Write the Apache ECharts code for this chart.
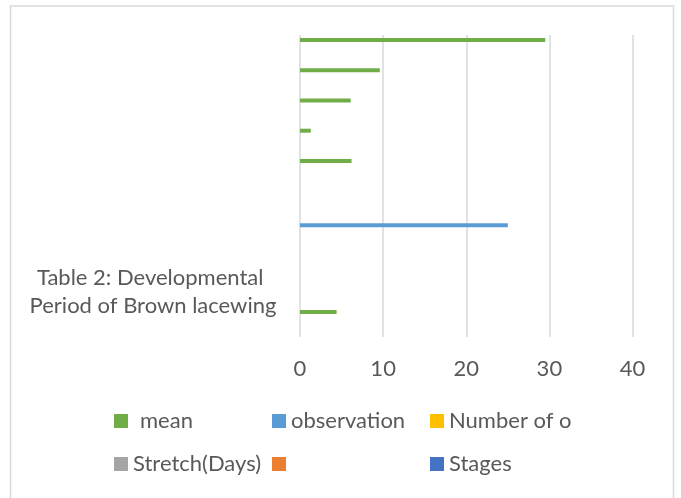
<!DOCTYPE html>
<html>
<head>
<meta charset="utf-8">
<script src="https://cdn.jsdelivr.net/npm/echarts@6/dist/echarts.min.js"></script>
<style>
  html, body { margin: 0; padding: 0; background: #ffffff; }
  #chart { width: 681px; height: 498px; }
</style>
</head>
<body>
<div id="chart"></div>
<script>
// Categories listed bottom to top along the vertical axis
var categories = ['', 'Table 2: Developmental Period of Brown lacewing', '', '', '', '', '', '', '', ''];

// Series values, one per category (null = no bar)
var meanValues        = [4.4, null, null, null, null, 6.2, 1.3, 6.1, 9.6, 29.5];
var observationValues = [null, null, null, 25, null, null, null, null, null, null];
var numberValues      = [null, null, null, null, null, null, null, null, null, null];
var stretchValues     = [null, null, null, null, null, null, null, null, null, null];
var unnamedValues     = [null, null, null, null, null, null, null, null, null, null];
var stagesValues      = [null, null, null, null, null, null, null, null, null, null];

// Value axis ticks
var xTicks = [0, 10, 20, 30, 40];

// Series are listed top to bottom within each category band
var seriesNames = ['mean', 'observation', 'Number of o', 'Stretch(Days)', ' ', 'Stages'];
var seriesColors = ['#70AD47', '#5B9BD5', '#FFC000', '#A5A5A5', '#ED7D31', '#4472C4'];
var seriesValues = [meanValues, observationValues, numberValues, stretchValues, unnamedValues, stagesValues];

var FONT = 'Lato';
var FONT_SIZE = 22;
var TEXT_COLOR = '#595959';

var chart = echarts.init(document.getElementById('chart'), null, { renderer: 'canvas' });

// Legend entries laid out on a 3-column grid
var legendSpots = [
  { name: 'mean',          left: 114, top: 410, pad: 7 },
  { name: 'observation',   left: 272, top: 410, pad: 0 },
  { name: 'Number of o',   left: 430, top: 410, pad: 0 },
  { name: 'Stretch(Days)', left: 114, top: 453, pad: 0 },
  { name: ' ',             left: 272, top: 453, pad: 0 },
  { name: 'Stages',        left: 430, top: 453, pad: 0 }
];

var legends = legendSpots.map(function (s) {
  return {
    data: [s.name],
    left: s.left,
    top: s.top,
    orient: 'horizontal',
    padding: 0,
    icon: 'rect',
    itemWidth: 14,
    itemHeight: 14,
    selectedMode: false,
    textStyle: {
      fontFamily: FONT,
      fontSize: FONT_SIZE,
      color: TEXT_COLOR,
      lineHeight: 22,
      padding: [0, 0, 0, s.pad]
    }
  };
});

var series = seriesNames.map(function (name, i) {
  return {
    name: name,
    type: 'bar',
    data: seriesValues[i],
    barWidth: 4,
    barGap: '0%',
    itemStyle: { color: seriesColors[i] },
    silent: true
  };
});

chart.setOption({
  animation: false,
  backgroundColor: '#ffffff',
  grid: { left: 300, right: 48.5, top: 35, bottom: 161, containLabel: false },
  xAxis: {
    type: 'value',
    min: xTicks[0],
    max: xTicks[xTicks.length - 1],
    interval: 10,
    axisLine: { show: false },
    axisTick: { show: false },
    axisLabel: { fontFamily: FONT, fontSize: FONT_SIZE, color: TEXT_COLOR, margin: 21 },
    splitLine: { show: true, lineStyle: { color: '#D9D9D9', width: 1.5 } }
  },
  yAxis: {
    type: 'category',
    data: categories,
    axisLine: { show: false },
    axisTick: { show: false },
    splitLine: { show: false },
    axisLabel: {
      interval: 0,
      fontFamily: FONT,
      fontSize: FONT_SIZE,
      lineHeight: 28,
      color: TEXT_COLOR,
      align: 'center',
      margin: 147,
      width: 272,
      overflow: 'break'
    }
  },
  legend: legends,
  series: series,
  graphic: [{
    type: 'rect',
    shape: { x: 10.5, y: 6, width: 663, height: 510 },
    style: { fill: 'none', stroke: '#D9D9D9', lineWidth: 1.5 },
    silent: true,
    z: -1
  }]
});
</script>
</body>
</html>
